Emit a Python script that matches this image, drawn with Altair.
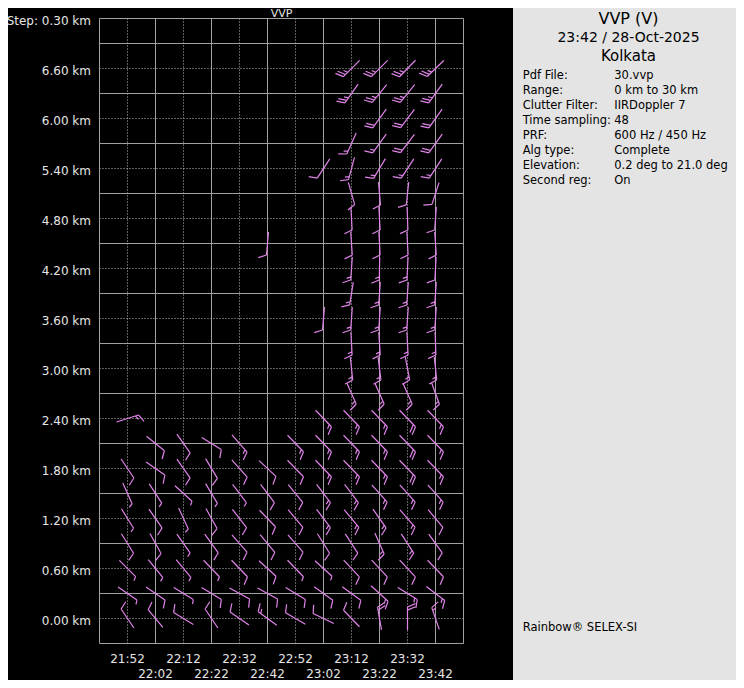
import altair as alt
import pandas as pd

N = None

# ---- data -------------------------------------------------------------
HEIGHTS_KM = [0.0, 0.3, 0.6, 0.9, 1.2, 1.5, 1.8, 2.1, 2.4, 2.7, 3.0, 3.3,
              3.6, 3.9, 4.2, 4.5, 4.8, 5.1, 5.4, 5.7, 6.0, 6.3, 6.6]
TIMES = ["21:52", "22:02", "22:12", "22:22", "22:32", "22:42",
         "22:52", "23:02", "23:12", "23:22", "23:32", "23:42"]

# barb direction (deg) per time column, from 0.0 km (first) to 6.6 km (last)
DIR_2152 = [326, 125, 135, 148, 148, 156, 146, N, 72, N, N, N, N, N, N, N, N, N, N, N, N, N, N]
DIR_2202 = [320, 124, 141, 151, 145, 147, 125, 129, N, N, N, N, N, N, N, N, N, N, N, N, N, N, N]
DIR_2212 = [301, 122, 140, 145, 155, 132, 145, 145, N, N, N, N, N, N, N, N, N, N, N, N, N, N, N]
DIR_2222 = [326, 121, 136, 144, 151, 149, 149, 122, N, N, N, N, N, N, N, N, N, N, N, N, N, N, N]
DIR_2232 = [305, 119, 136, 139, 142, 143, 138, 139, N, N, N, N, N, N, N, N, N, N, N, N, N, N, N]
DIR_2242 = [306, 119, 132, 140, 136, 143, 133, N, N, N, N, N, N, N, N, 185, N, N, N, N, N, N, N]
DIR_2252 = [300, 121, 136, 139, 140, 141, 136, 136, N, N, N, N, N, N, N, N, N, N, N, N, N, N, N]
DIR_2302 = [296, 126, 132, 148, 143, 143, 136, 136, 136, N, N, N, 185, N, N, N, N, N, 213, N, N, N, N]
DIR_2312 = [316, 126, 137, 147, 140, 143, 136, 136, 136, 156, 174, 177, 184, 189, 184, 176, 177, 164, 195, 204, N, 215, 225]
DIR_2322 = [350, 132, 137, 156, 145, 138, 136, 136, 136, 156, 173, 176, 184, 184, 181, 177, 177, 175, 211, 216, 216, 219, 225]
DIR_2332 = [0, 122, 137, 147, 139, 138, 136, 136, 136, 156, 169, 177, 184, 184, 183, 177, 178, 186, 213, 217, 217, 219, 224]
DIR_2342 = [341, 127, 136, 144, 140, 138, 136, 136, 136, 160, 174, 178, 184, 184, 183, 176, 184, 198, 213, 216, 215, 216, 226]

# wind speed (kt) per time column, same layout
SPD_2152 = [10, 5, 5, 10, 5, 5, 10, N, 15, N, N, N, N, N, N, N, N, N, N, N, N, N, N]
SPD_2202 = [10, 10, 5, 10, 10, 5, 10, 10, N, N, N, N, N, N, N, N, N, N, N, N, N, N, N]
SPD_2212 = [10, 5, 5, 5, 5, 5, 10, 10, N, N, N, N, N, N, N, N, N, N, N, N, N, N, N]
SPD_2222 = [10, 10, 5, 10, 10, 5, 10, 10, N, N, N, N, N, N, N, N, N, N, N, N, N, N, N]
SPD_2232 = [10, 10, 10, 10, 10, 5, 10, 15, N, N, N, N, N, N, N, N, N, N, N, N, N, N, N]
SPD_2242 = [15, 10, 10, 10, 10, 10, 10, N, N, N, N, N, N, N, N, 10, N, N, N, N, N, N, N]
SPD_2252 = [10, 10, 5, 10, 10, 10, 10, 15, N, N, N, N, N, N, N, N, N, N, N, N, N, N, N]
SPD_2302 = [10, 10, 5, 10, 15, 15, 15, 15, 15, N, N, N, 10, N, N, N, N, N, 10, N, N, N, N]
SPD_2312 = [10, 10, 10, 10, 15, 15, 15, 15, 15, 15, 15, 15, 15, 15, 15, 10, 10, 10, 15, 15, N, 25, 25]
SPD_2322 = [20, 15, 10, 15, 15, 15, 15, 15, 15, 15, 15, 15, 15, 15, 15, 10, 10, 10, 15, 15, 20, 25, 25]
SPD_2332 = [20, 15, 10, 15, 15, 15, 20, 20, 20, 15, 15, 15, 15, 15, 15, 10, 10, 10, 15, 20, 20, 25, 25]
SPD_2342 = [15, 15, 10, 10, 10, 15, 15, 15, 15, 15, 15, 15, 15, 15, 10, 10, 10, 10, 15, 20, 20, 25, 25]

DIRS = [DIR_2152, DIR_2202, DIR_2212, DIR_2222, DIR_2232, DIR_2242,
        DIR_2252, DIR_2302, DIR_2312, DIR_2322, DIR_2332, DIR_2342]
SPDS = [SPD_2152, SPD_2202, SPD_2212, SPD_2222, SPD_2232, SPD_2242,
        SPD_2252, SPD_2302, SPD_2312, SPD_2322, SPD_2332, SPD_2342]

SPEED_CLASSES = [5, 10, 15, 20, 25, 30]

TIME_LABELS_TOP = ["21:52", "22:12", "22:32", "22:52", "23:12", "23:32"]
TIME_LABELS_BOTTOM = ["22:02", "22:22", "22:42", "23:02", "23:22", "23:42"]
TIME_DOMAIN = ["21:42", "23:52"]
Y_LABEL_KM = [0.0, 0.6, 1.2, 1.8, 2.4, 3.0, 3.6, 4.2, 4.8, 5.4, 6.0, 6.6, 7.2]
Y_LABELS = ["0.00 km", "0.60 km", "1.20 km", "1.80 km", "2.40 km", "3.00 km", "3.60 km",
            "4.20 km", "4.80 km", "5.40 km", "6.00 km", "6.60 km", "Step: 0.30 km"]
GRID_SOLID_KM = [7.2, 6.9, 6.3, 5.7, 5.1, 4.5, 3.9, 3.3, 2.7, 2.1, 1.5, 0.9, 0.3, -0.3]
GRID_DOT_KM = [0.0, 0.6, 1.2, 1.8, 2.4, 3.0, 3.6, 4.2, 4.8, 5.4, 6.0, 6.6]
GRID_SOLID_T = ["21:42", "22:02", "22:22", "22:42", "23:02", "23:22", "23:42", "23:52"]
GRID_DOT_T = ["21:52", "22:12", "22:32", "22:52", "23:12", "23:32"]

INFO_HEAD = ["VVP (V)", "23:42 / 28-Oct-2025", "Kolkata"]
INFO_LABELS = ["Pdf File:", "Range:", "Clutter Filter:", "Time sampling:",
               "PRF:", "Alg type:", "Elevation:", "Second reg:"]
INFO_VALUES = ["30.vvp", "0 km to 30 km", "IIRDoppler 7", "48",
               "600 Hz / 450 Hz", "Complete", "0.2 deg to 21.0 deg", "On"]
FOOTER = "Rainbow\u00ae SELEX-SI"

# ---- styling -----------------------------------------------------------
BARB_COLOR = "#e184ea"
GRID_COLOR = "#a0a0a0"
DOT_COLOR = "#bdbdbd"
LABEL_COLOR = "#e6e6e6"
PANEL_COLOR = "#e4e4e4"
FONT = "DejaVu Sans"


def minutes(t):
    h, m = t.split(":")
    return int(h) * 60 + int(m)


def barb_path(speed):
    parts = ["M0,1L0,-1"]
    full, rest = divmod(speed, 10)
    y = -1.0
    for _ in range(full):
        parts.append(f"M0,{y:.2f}L0.69,{y - 0.29:.2f}")
        y += 0.27
    if rest:
        parts.append(f"M0,{y:.2f}L0.36,{y - 0.15:.2f}")
    return "".join(parts)


rows = []
for t, dirs, spds in zip(TIMES, DIRS, SPDS):
    for h, d, s in zip(HEIGHTS_KM, dirs, spds):
        if d is not None:
            rows.append({"time": t, "min": minutes(t), "km": h, "dir": d, "spd": s})
barbs = pd.DataFrame(rows)

X_SCALE = alt.Scale(domain=[minutes(t) for t in TIME_DOMAIN], nice=False, zero=False)
Y_SCALE = alt.Scale(domain=[-0.3, 7.2], nice=False, zero=False)


def one():
    return alt.InlineData(values=[{}])


def hrules(vals, color, dash=None):
    kw = dict(color=color, strokeWidth=1)
    if dash:
        kw["strokeDash"] = dash
    return alt.Chart(pd.DataFrame({"km": vals})).mark_rule(**kw).encode(
        y=alt.Y("km:Q", scale=Y_SCALE, axis=None))


def vrules(vals, color, dash=None):
    kw = dict(color=color, strokeWidth=1)
    if dash:
        kw["strokeDash"] = dash
    return alt.Chart(pd.DataFrame({"min": [minutes(t) for t in vals]})).mark_rule(**kw).encode(
        x=alt.X("min:Q", scale=X_SCALE, axis=None))


barb_layer = alt.Chart(barbs).mark_point(
    filled=False, opacity=1, strokeWidth=1.2, color=BARB_COLOR, size=529
).encode(
    x=alt.X("min:Q", scale=X_SCALE, axis=None),
    y=alt.Y("km:Q", scale=Y_SCALE, axis=None),
    shape=alt.Shape("spd:N", scale=alt.Scale(domain=SPEED_CLASSES,
                                             range=[barb_path(s) for s in SPEED_CLASSES]),
                    legend=None),
    angle=alt.Angle("dir:Q", scale=None),
)

ylabels = alt.Chart(pd.DataFrame({"km": Y_LABEL_KM, "lab": Y_LABELS})).mark_text(
    font=FONT, fontSize=12, color=LABEL_COLOR, align="right", baseline="alphabetic", dy=6
).encode(x=alt.value(-8.5), y=alt.Y("km:Q", scale=Y_SCALE, axis=None), text="lab:N")


def xlabels(labels, ypix):
    df = pd.DataFrame({"t": labels, "min": [minutes(t) for t in labels]})
    return alt.Chart(df).mark_text(
        font=FONT, fontSize=12, color=LABEL_COLOR, align="center", baseline="alphabetic"
    ).encode(x=alt.X("min:Q", scale=X_SCALE, axis=None), y=alt.value(ypix), text="t:N")


def text(txt, x, y, size, align="left", color="#000000"):
    return alt.Chart(one()).mark_text(
        font=FONT, fontSize=size, align=align, baseline="alphabetic",
        color=color, lineHeight=15
    ).encode(x=alt.value(x), y=alt.value(y), text=alt.value(txt))


panel = alt.Chart(one()).mark_rect(color=PANEL_COLOR).encode(
    x=alt.value(413.5), x2=alt.value(650), y=alt.value(-12), y2=alt.value(675))

chart = alt.layer(
    panel,
    hrules(GRID_DOT_KM, DOT_COLOR, [1, 2]),
    vrules(GRID_DOT_T, DOT_COLOR, [1, 2]),
    hrules(GRID_SOLID_KM, GRID_COLOR),
    vrules(GRID_SOLID_T, GRID_COLOR),
    barb_layer,
    ylabels,
    xlabels(TIME_LABELS_TOP, 644.8),
    xlabels(TIME_LABELS_BOTTOM, 659.8),
    text("VVP", 182, -1.2, 11, align="center", color=LABEL_COLOR),
    text(INFO_HEAD[0], 529, 5.5, 16, align="center"),
    text(INFO_HEAD[1], 529, 23.2, 14, align="center"),
    text(INFO_HEAD[2], 529, 42.5, 15, align="center"),
    text(INFO_LABELS, 423.2, 60.8, 11.5),
    text(INFO_VALUES, 514.8, 60.8, 11.5),
    text(FOOTER, 423.2, 612.2, 11.5),
).properties(
    width=364,
    height=625,
    background="#000000",
    padding={"left": 91.5, "top": 10.5, "right": 272.5, "bottom": 36.5},
    autosize=alt.AutoSizeParams(type="none"),
).configure_view(stroke=None)

chart.save("out.html", embed_options={"renderer": "svg", "actions": False})
